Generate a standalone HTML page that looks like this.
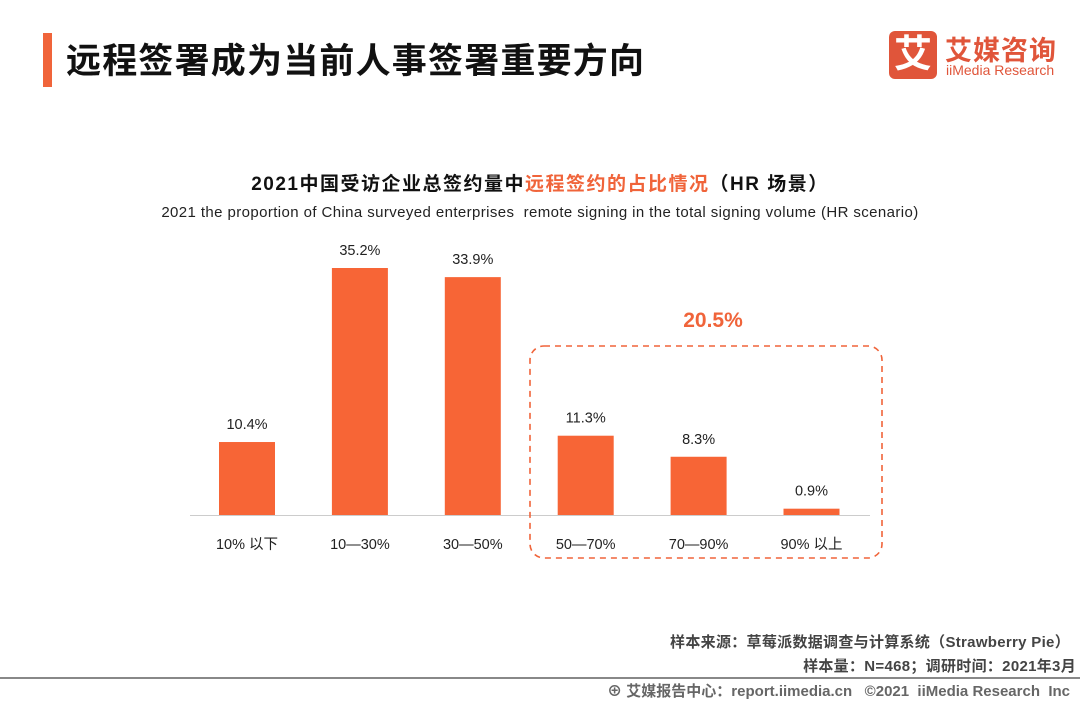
<!DOCTYPE html>
<html><head><meta charset="utf-8"><style>
body{margin:0;width:1080px;height:702px;background:#fff;overflow:hidden;position:relative;font-family:"Liberation Sans","Noto Sans CJK SC",sans-serif}
.abs{position:absolute}
</style></head><body>
<div class="abs" style="left:43px;top:33px;width:9px;height:54px;background:#f0643a"></div>
<div class="abs" style="left:66px;top:33px;font-size:35px;font-weight:bold;color:#111;letter-spacing:1.2px">远程签署成为当前人事签署重要方向</div>
<div class="abs" style="left:889px;top:31px;width:48px;height:48px;background:#e0553a;border-radius:6px;color:#fff;font-size:38px;font-weight:bold;text-align:center;line-height:48px">艾</div>
<div class="abs" style="left:945px;top:29px;font-size:27px;font-weight:bold;color:#e0553a;letter-spacing:1px">艾媒咨询</div>
<div class="abs" style="left:946px;top:62px;font-size:14px;color:#e0553a">iiMedia Research</div>
<div class="abs" style="left:0;width:1080px;top:169px;text-align:center;font-size:19px;font-weight:bold;color:#111;letter-spacing:1.5px">2021中国受访企业总签约量中<span style="color:#f0643a">远程签约的占比情况</span>（HR 场景）</div>
<div class="abs" style="left:0;width:1080px;top:204px;text-align:center;font-size:15px;color:#222;letter-spacing:0.4px">2021 the proportion of China surveyed enterprises&nbsp; remote signing in the total signing volume (HR scenario)</div>
<svg class="abs" style="left:0;top:0" width="1080" height="702" id="chart">
<line x1="190" y1="515.5" x2="870" y2="515.5" stroke="#ccc" stroke-width="1"/>
<rect x="530" y="346" width="352" height="212" rx="14" fill="none" stroke="#f0643a" stroke-width="1.6" stroke-dasharray="6,5"/>
<text x="713" y="327" text-anchor="middle" font-size="21" font-weight="bold" fill="#f0643a" font-family="Liberation Sans, sans-serif">20.5%</text>
</svg>
<div class="abs" style="right:10px;top:631px;font-size:15px;font-weight:bold;color:#444;letter-spacing:0.3px">样本来源：草莓派数据调查与计算系统（Strawberry Pie）</div>
<div class="abs" style="right:4px;top:655px;font-size:15px;font-weight:bold;color:#444;letter-spacing:0.3px">样本量：N=468；调研时间：2021年3月</div>
<div class="abs" style="left:0;top:677px;width:1080px;height:2px;background:#888"></div>
<div class="abs" style="right:10px;top:680px;font-size:15px;font-weight:bold;color:#666">⊕ 艾媒报告中心：report.iimedia.cn &nbsp; ©2021&nbsp; iiMedia Research&nbsp; Inc</div>
<script>
const categories=["10% 以下","10—30%","30—50%","50—70%","70—90%","90% 以上"];
const values=[10.4,35.2,33.9,11.3,8.3,0.9];
const labels=["10.4%","35.2%","33.9%","11.3%","8.3%","0.9%"];
const svg=document.getElementById('chart');
const NS="http://www.w3.org/2000/svg";
const x0=247,step=112.9,bw=56,base=515,scale=247/35.2;
const xPos=i=>x0+i*step;
const yPos=v=>base-v*scale;
categories.forEach((c,i)=>{
  const r=document.createElementNS(NS,'rect');
  r.setAttribute('x',xPos(i)-bw/2);r.setAttribute('y',yPos(values[i]));
  r.setAttribute('width',bw);r.setAttribute('height',base-yPos(values[i]));
  r.setAttribute('fill','#f76536');
  
  
  svg.appendChild(r);
  const t=document.createElementNS(NS,'text');
  t.setAttribute('x',xPos(i));t.setAttribute('y',yPos(values[i])-13);
  t.setAttribute('text-anchor','middle');t.setAttribute('font-size','14.5');t.setAttribute('fill','#222');
  t.setAttribute('font-family','Liberation Sans, sans-serif');
  t.textContent=labels[i];
  
  
  svg.appendChild(t);
  const l=document.createElementNS(NS,'text');
  l.setAttribute('x',xPos(i));l.setAttribute('y',549);
  l.setAttribute('text-anchor','middle');l.setAttribute('font-size','14.5');l.setAttribute('fill','#222');
  l.setAttribute('font-family','Liberation Sans, Noto Sans CJK SC, sans-serif');
  l.textContent=c;
  
  
  svg.appendChild(l);
});
</script>
</body></html>
